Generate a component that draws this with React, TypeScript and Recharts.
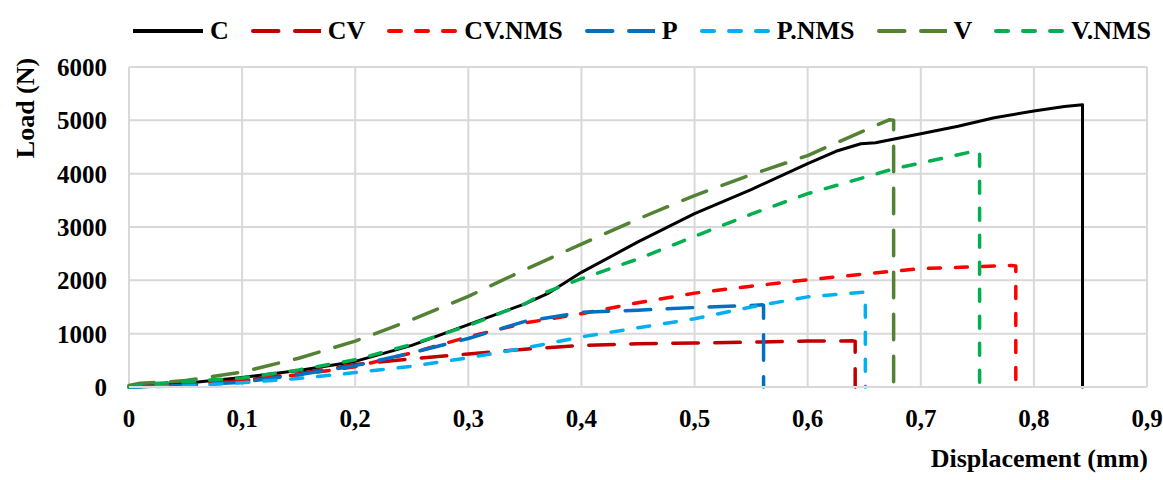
import { LineChart, Line, XAxis, YAxis, CartesianGrid } from "recharts";

// ── data (displacement mm / load N) ─────────────────────────────────────────

const X_TICKS = [0, 0.1, 0.2, 0.3, 0.4, 0.5, 0.6, 0.7, 0.8, 0.9];
const Y_TICKS = [0, 1000, 2000, 3000, 4000, 5000, 6000];

const C_DISP = [0, 0.05, 0.1, 0.15, 0.2, 0.25, 0.3, 0.35, 0.37, 0.4, 0.45, 0.5, 0.55, 0.6, 0.625, 0.647, 0.66, 0.7, 0.733, 0.765, 0.8, 0.827, 0.843, 0.843];
const C_LOAD = [0, 70, 180, 310, 480, 780, 1170, 1560, 1750, 2150, 2720, 3250, 3700, 4190, 4420, 4560, 4580, 4750, 4890, 5050, 5175, 5260, 5290, 0];

const CV_DISP = [0, 0.05, 0.1, 0.15, 0.2, 0.25, 0.3, 0.35, 0.4, 0.45, 0.5, 0.55, 0.6, 0.64, 0.642, 0.642];
const CV_LOAD = [0, 40, 120, 250, 420, 530, 620, 710, 780, 810, 825, 840, 862, 865, 860, 0];

const CVNMS_DISP = [0, 0.05, 0.1, 0.15, 0.2, 0.25, 0.3, 0.35, 0.4, 0.45, 0.5, 0.55, 0.6, 0.65, 0.7, 0.75, 0.78, 0.784, 0.784];
const CVNMS_LOAD = [0, 50, 120, 230, 380, 640, 940, 1200, 1375, 1580, 1760, 1890, 2010, 2120, 2220, 2255, 2280, 2270, 0];

const P_DISP = [0, 0.05, 0.1, 0.15, 0.2, 0.25, 0.3, 0.35, 0.4, 0.45, 0.5, 0.54, 0.56, 0.561, 0.561];
const P_LOAD = [0, 30, 90, 230, 400, 640, 910, 1230, 1400, 1440, 1490, 1520, 1540, 1530, 0];

const PNMS_DISP = [0, 0.05, 0.1, 0.15, 0.2, 0.25, 0.3, 0.35, 0.4, 0.45, 0.5, 0.55, 0.6, 0.65, 0.651, 0.651];
const PNMS_LOAD = [0, 20, 80, 160, 270, 390, 550, 730, 940, 1110, 1280, 1500, 1690, 1780, 1760, 0];

const V_DISP = [0, 0.01, 0.03, 0.05, 0.1, 0.15, 0.2, 0.25, 0.3, 0.35, 0.4, 0.45, 0.5, 0.55, 0.6, 0.647, 0.672, 0.676, 0.676];
const V_LOAD = [30, 70, 90, 120, 280, 540, 860, 1260, 1700, 2200, 2680, 3150, 3590, 3980, 4340, 4780, 5010, 5000, 0];

const VNMS_DISP = [0, 0.02, 0.05, 0.1, 0.15, 0.2, 0.25, 0.3, 0.33, 0.35, 0.37, 0.4, 0.45, 0.5, 0.55, 0.6, 0.65, 0.676, 0.7, 0.748, 0.752, 0.752];
const VNMS_LOAD = [0, 60, 100, 170, 320, 510, 800, 1150, 1400, 1560, 1790, 2030, 2400, 2825, 3240, 3625, 3930, 4090, 4200, 4425, 4420, 0];

// ── styles ──────────────────────────────────────────────────────────────────

const FONT = "'Liberation Serif', 'Times New Roman', serif";
const LONG = "25.5 16.5";
const SHORT = "12 15";

const zip = (xs: number[], ys: number[]) => xs.map((x, i) => ({ x, y: ys[i] }));

const SERIES = [
  { name: "C", data: zip(C_DISP, C_LOAD), color: "#000000", dash: undefined, width: 3 },
  { name: "CV", data: zip(CV_DISP, CV_LOAD), color: "#C00000", dash: LONG, width: 3.5 },
  { name: "CV.NMS", data: zip(CVNMS_DISP, CVNMS_LOAD), color: "#FF0000", dash: SHORT, width: 3.5 },
  { name: "P", data: zip(P_DISP, P_LOAD), color: "#0070C0", dash: LONG, width: 3.5 },
  { name: "P.NMS", data: zip(PNMS_DISP, PNMS_LOAD), color: "#00B0F0", dash: SHORT, width: 3.5 },
  { name: "V", data: zip(V_DISP, V_LOAD), color: "#548235", dash: LONG, width: 3.5 },
  { name: "V.NMS", data: zip(VNMS_DISP, VNMS_LOAD), color: "#00B050", dash: SHORT, width: 3.5 },
];

const fmtX = (v: number) => (v === 0 ? "0" : v.toFixed(1).replace(".", ","));

function ChartLegend() {
  return (
    <div
      style={{
        position: "absolute",
        left: 133,
        top: 14,
        display: "flex",
        alignItems: "center",
        fontFamily: FONT,
        fontWeight: "bold",
        fontSize: 26,
        lineHeight: "34px",
      }}
    >
      {SERIES.map((s) => (
        <div key={s.name} style={{ display: "flex", alignItems: "center", marginRight: 22 }}>
          <svg width={70} height={8} style={{ marginRight: 7 }}>
            <line
              x1={s.dash ? 2 : 0}
              y1={4}
              x2={70}
              y2={4}
              stroke={s.color}
              strokeWidth={4}
              strokeDasharray={s.dash}
              strokeLinecap="round"
            />
          </svg>
          <span>{s.name}</span>
        </div>
      ))}
    </div>
  );
}

export default function App() {
  return (
    <div style={{ position: "relative", width: 1163, height: 480, background: "#fff" }}>
      <style>{`body{margin:0}`}</style>
      <ChartLegend />
      <LineChart width={1163} height={480} margin={{ top: 67, right: 16, bottom: 0, left: 0 }}>
        <CartesianGrid stroke="#D9D9D9" strokeWidth={2} />
        <XAxis
          type="number"
          dataKey="x"
          domain={[0, 0.9]}
          ticks={X_TICKS}
          tickFormatter={fmtX}
          height={93}
          tickSize={0}
          tickMargin={22}
          axisLine={{ stroke: "#D9D9D9", strokeWidth: 2 }}
          tickLine={false}
          tick={{ fill: "#000", fontSize: 25, fontWeight: "bold", fontFamily: FONT }}
          label={{
            content: () => (
              <text x={1148} y={467} textAnchor="end" fill="#000" fontSize={26} fontWeight="bold" fontFamily={FONT}>
                Displacement (mm)
              </text>
            ),
          }}
        />
        <YAxis
          type="number"
          domain={[0, 6000]}
          ticks={Y_TICKS}
          width={129}
          tickSize={0}
          tickMargin={22}
          axisLine={false}
          tickLine={false}
          tick={{ fill: "#000", fontSize: 25, fontWeight: "bold", fontFamily: FONT }}
          label={{
            content: () => (
              <text
                x={25}
                y={108}
                transform="rotate(-90, 25, 108)"
                textAnchor="middle"
                dominantBaseline="central"
                fill="#000"
                fontSize={26}
                fontWeight="bold"
                fontFamily={FONT}
              >
                Load (N)
              </text>
            ),
          }}
        />
        {SERIES.map((s) => (
          <Line
            key={s.name}
            data={s.data}
            dataKey="y"
            name={s.name}
            type="linear"
            stroke={s.color}
            strokeWidth={s.width}
            strokeDasharray={s.dash}
            strokeLinecap="round"
            strokeLinejoin="round"
            dot={false}
            activeDot={false}
            isAnimationActive={false}
          />
        ))}
      </LineChart>
    </div>
  );
}
